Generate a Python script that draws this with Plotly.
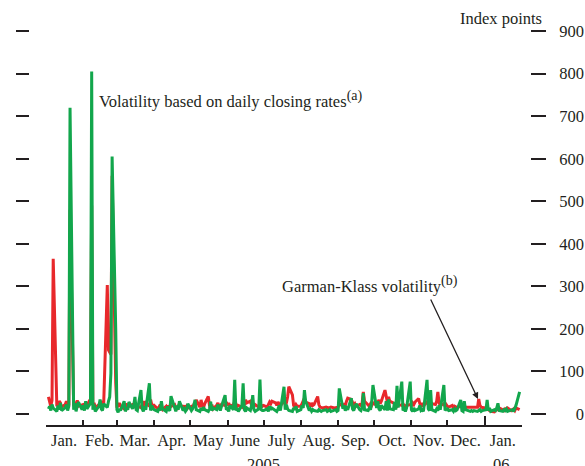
import pandas as pd
import plotly.graph_objects as go

# Month boundaries covered by the chart (Jan 2005 to Jan 2006)
month_starts = pd.date_range("2005-01-01", "2006-01-01", freq="MS")
month_labels = ["Jan.", "Feb.", "Mar.", "Apr.", "May", "June", "July",
                "Aug.", "Sep.", "Oct.", "Nov.", "Dec.", "Jan."]
year_starts = ["2005-01-01", "2006-01-01"]
year_labels = ["2005", "06"]

# Daily volatility based on closing rates, index points, one row per month
closing_rate_vol = [
    [12, 18, 8, 22, 14, 6, 20, 10, 26, 8, 15, 22, 8, 18, 720, 10, 25, 6, 18, 28, 10],
    [20, 8, 30, 12, 25, 805, 10, 22, 6, 18, 34, 12, 8, 24, 15, 30, 40, 96, 605, 200],
    [10, 4, 12, 8, 30, 6, 14, 10, 28, 12, 20, 40, 10, 8, 56, 12, 6, 18, 10, 72, 8, 20, 12],
    [10, 6, 14, 8, 30, 12, 6, 18, 10, 8, 42, 14, 6, 20, 10, 30, 8, 12, 6, 10, 24],
    [8, 12, 20, 33, 10, 6, 14, 8, 16, 10, 6, 12, 29, 8, 14, 10, 22, 12, 8, 18, 44, 10],
    [12, 6, 20, 10, 80, 8, 14, 6, 20, 72, 10, 6, 14, 8, 20, 44, 10, 6, 12, 81, 10, 8],
    [8, 12, 6, 18, 10, 14, 8, 6, 12, 20, 8, 64, 10, 22, 12, 8, 6, 14, 10, 18, 6],
    [10, 20, 14, 56, 30, 8, 12, 6, 10, 8, 6, 10, 8, 6, 8, 10, 6, 8, 10, 6, 8, 10, 6],
    [8, 60, 12, 20, 8, 14, 10, 37, 12, 8, 14, 24, 10, 8, 16, 49, 10, 8, 14, 10, 30, 68],
    [14, 30, 12, 8, 20, 10, 30, 8, 34, 12, 10, 28, 10, 66, 15, 76, 8, 12, 6, 14, 76],
    [10, 6, 14, 8, 12, 20, 8, 10, 6, 80, 12, 8, 56, 10, 6, 12, 8, 20, 10, 68, 8, 12],
    [12, 8, 10, 6, 12, 8, 10, 33, 8, 6, 30, 10, 8, 6, 8, 6, 8, 6, 8, 10, 6, 8],
    [10, 33, 8, 14, 6, 10, 8, 14, 25, 8, 6, 10, 8, 12, 6, 8, 10, 6, 12, 20, 52],
]

# Garman-Klass volatility, index points, one row per month
garman_klass_vol = [
    [40, 28, 18, 32, 365, 18, 22, 30, 26, 16, 22, 30, 20, 22, 480, 18, 28, 20, 32, 18, 22],
    [22, 18, 26, 20, 35, 490, 20, 26, 15, 22, 28, 30, 18, 24, 303, 150, 145, 140, 560, 73],
    [15, 20, 26, 18, 12, 20, 24, 15, 18, 22, 14, 25, 20, 18, 15, 24, 30, 20, 26, 18, 34, 22, 16],
    [20, 12, 16, 22, 14, 10, 18, 12, 20, 15, 18, 22, 14, 10, 18, 24, 15, 20, 12, 18, 14],
    [18, 14, 22, 20, 33, 16, 33, 20, 14, 24, 41, 20, 16, 22, 12, 20, 26, 18, 14, 22, 20, 28],
    [20, 26, 18, 22, 30, 24, 18, 20, 16, 28, 20, 33, 26, 30, 20, 24, 18, 22, 16, 24, 20, 18],
    [20, 16, 22, 28, 24, 30, 26, 20, 28, 24, 18, 34, 22, 26, 40, 64, 45, 20, 16, 22, 18],
    [18, 24, 30, 37, 28, 24, 18, 26, 20, 22, 41, 22, 16, 15, 14, 16, 15, 14, 15, 16, 14, 15, 16],
    [16, 24, 18, 22, 20, 30, 37, 34, 28, 20, 24, 18, 22, 20, 26, 52, 30, 22, 18, 24, 20, 26],
    [20, 28, 33, 24, 30, 56, 36, 28, 40, 30, 26, 24, 20, 18, 22, 20, 24, 18, 16, 20, 22],
    [20, 26, 22, 28, 36, 24, 20, 26, 18, 30, 22, 20, 28, 24, 22, 30, 52, 26, 20, 24, 18, 22],
    [18, 16, 20, 14, 18, 16, 15, 18, 20, 16, 18, 16, 16, 15, 16, 16, 15, 16, 35, 20, 16, 15],
    [14, 18, 10, 8, 6, 5, 8, 12, 10, 14, 10, 8, 12, 10, 14, 8, 10, 12, 8, 14, 10],
]

y_ticks = list(range(0, 1000, 100))


def month_series(rows):
    """Attach business-day dates to each month's values."""
    xs, ys = [], []
    for start, vals in zip(month_starts, rows):
        days = pd.bdate_range(start, start + pd.offsets.MonthEnd(0))
        n = min(len(days), len(vals))
        xs.extend(days[:n])
        ys.extend(vals[:n])
    return xs, ys


gk_x, gk_y = month_series(garman_klass_vol)
cl_x, cl_y = month_series(closing_rate_vol)

RED = "#e8282b"
GREEN = "#12a64c"
INK = "#231f20"
FONT = "Liberation Serif"
FS = 16.5

# page geometry (pixels)
W, H = 585, 466
L, R, T, B = 15, 1, 29, 41
PW, PH = W - L - R, H - T - B


def px_x(p):
    return (p - L) / PW


def px_y(p):
    return (H - B - p) / PH


fig = go.Figure()
fig.add_trace(go.Scatter(x=gk_x, y=gk_y, mode="lines",
                         line=dict(color=RED, width=3), hoverinfo="skip"))
fig.add_trace(go.Scatter(x=cl_x, y=cl_y, mode="lines",
                         line=dict(color=GREEN, width=3), hoverinfo="skip"))
# transparent copies so the overlaid label/tick axes get drawn
for xa, ya in (("x2", "y2"), ("x3", "y3")):
    fig.add_trace(go.Scatter(x=cl_x, y=cl_y, mode="lines", xaxis=xa, yaxis=ya,
                             line=dict(color="rgba(0,0,0,0)", width=0),
                             opacity=0, hoverinfo="skip"))

y_range = [-26, 905]
x_range = ["2005-01-01", "2006-02-01"]
mid_months = [s + (s + pd.offsets.MonthEnd(0) - s) / 2 for s in month_starts]

common_y = dict(range=y_range, tickvals=y_ticks, showgrid=False, zeroline=False,
                showline=False, fixedrange=True)
common_x = dict(range=x_range, type="date", showgrid=False, zeroline=False,
                fixedrange=True)

fig.update_layout(
    width=W, height=H,
    margin=dict(l=L, r=R, t=T, b=B),
    paper_bgcolor="white", plot_bgcolor="white",
    showlegend=False,
    font=dict(family=FONT, size=FS, color=INK),
    xaxis=dict(**common_x, domain=[px_x(46), px_x(522)],
               tickvals=list(month_starts), ticks="inside", ticklen=5,
               tickwidth=1.5, tickcolor=INK, showticklabels=False,
               showline=True, linecolor=INK, linewidth=1.5, anchor="y"),
    xaxis2=dict(**common_x, overlaying="x", anchor="y2",
                tickvals=mid_months, ticktext=month_labels, ticks="",
                showline=False, ticklabelstandoff=3,
                tickfont=dict(family=FONT, size=FS, color=INK)),
    xaxis3=dict(**common_x, overlaying="x", anchor="y3",
                tickvals=year_starts, ticks="inside", ticklen=9,
                tickwidth=1.5, tickcolor=INK, showticklabels=False,
                showline=False),
    yaxis=dict(**common_y, anchor="free", position=0, ticks="inside",
               ticklen=13, tickwidth=1.5, tickcolor=INK, showticklabels=False),
    yaxis2=dict(**common_y, overlaying="y", side="right", anchor="free",
                position=px_x(546), ticks="inside", ticklen=15, tickwidth=1.5,
                tickcolor=INK, showticklabels=False),
    yaxis3=dict(**common_y, overlaying="y", side="left", anchor="free",
                position=1, ticks="", showticklabels=True,
                tickfont=dict(family=FONT, size=FS, color=INK)),
)

SUP = "<sup><span style='font-size:14px'>{}</span></sup>"
annotations = [
    dict(text="Index points", x=px_x(544), y=px_y(18), xanchor="right",
         yanchor="middle"),
    dict(text="Volatility based on daily closing rates" + SUP.format("(a)"),
         x=px_x(97), y=px_y(99), xanchor="left", yanchor="middle"),
    dict(text="Garman-Klass volatility" + SUP.format("(b)"),
         x=px_x(280), y=px_y(284), xanchor="left", yanchor="middle"),
    dict(text=year_labels[0], x=px_x(263), y=px_y(453), xanchor="center",
         yanchor="top"),
    dict(text=year_labels[1], x=px_x(501), y=px_y(453), xanchor="center",
         yanchor="top"),
]
for a in annotations:
    fig.add_annotation(xref="paper", yref="paper", showarrow=False,
                       font=dict(family=FONT, size=FS, color=INK), **a)

fig.add_annotation(xref="paper", yref="paper", x=px_x(478), y=px_y(399),
                   text="", showarrow=True, arrowhead=2, arrowsize=1,
                   arrowwidth=1.3, arrowcolor=INK, ax=-48, ay=-101)

fig.write_html("out.html")
